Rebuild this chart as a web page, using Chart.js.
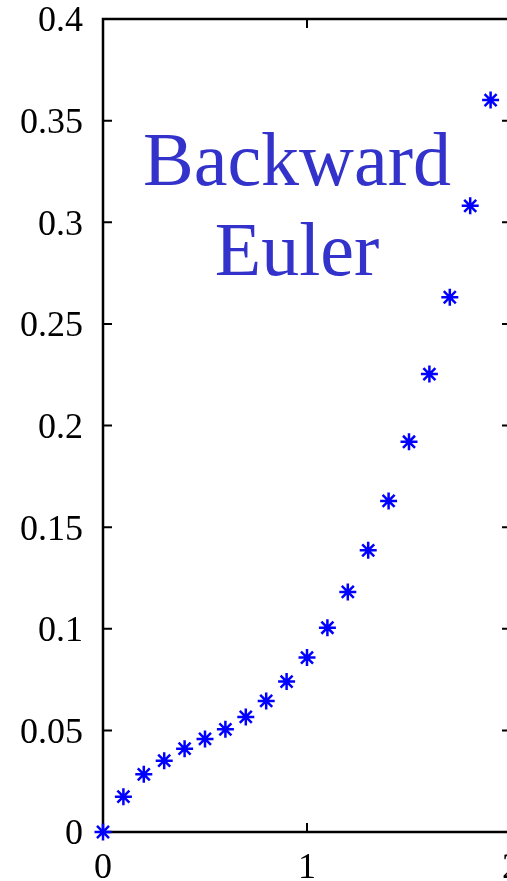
<!DOCTYPE html>
<html>
<head>
<meta charset="utf-8">
<script src="https://cdn.jsdelivr.net/npm/chart.js@4/dist/chart.umd.min.js"></script>
<style>
  html, body { margin: 0; padding: 0; background: #fff; overflow: hidden; width: 507px; height: 881px; }
  #wrap { position: absolute; left: 0; top: 0; width: 540px; height: 881px; }
</style>
</head>
<body>
<div id="wrap"><canvas id="c" width="540" height="881"></canvas></div>
<script>
// ---- data ----
const xValues = [0, 0.1, 0.2, 0.3, 0.4, 0.5, 0.6, 0.7, 0.8, 0.9, 1.0, 1.1, 1.2, 1.3, 1.4, 1.5, 1.6, 1.7, 1.8, 1.9];
const yValues = [0, 0.0174, 0.0284, 0.0351, 0.0410, 0.0458, 0.0505, 0.0566, 0.0645, 0.0740, 0.0858, 0.1005, 0.1181, 0.1386, 0.1629, 0.1920, 0.2253, 0.2631, 0.3081, 0.3601];
const xTicks = [0, 1, 2];
const yTicks = [0, 0.05, 0.1, 0.15, 0.2, 0.25, 0.3, 0.35, 0.4];
const xTickLabels = ['0', '1', '2'];
const yTickLabels = ['0', '0.05', '0.1', '0.15', '0.2', '0.25', '0.3', '0.35', '0.4'];
const annotationLines = ['Backward', 'Euler'];

const points = xValues.map((x, i) => ({ x: x, y: yValues[i] }));
const tickFont = { family: 'Liberation Serif', size: 36, lineHeight: 1.0 };

const framePlugin = {
  id: 'frame',
  beforeDatasetsDraw(chart) {
    const { ctx, chartArea: a, scales } = chart;
    ctx.save();
    ctx.strokeStyle = '#000';
    ctx.lineWidth = 2.5;
    ctx.strokeRect(a.left, a.top, a.right - a.left, a.bottom - a.top);
    ctx.lineWidth = 2;
    const tl = 9;
    ctx.beginPath();
    yTicks.forEach(v => {
      const p = scales.y.getPixelForValue(v);
      ctx.moveTo(a.left, p); ctx.lineTo(a.left + tl, p);
      ctx.moveTo(a.right, p); ctx.lineTo(a.right - tl, p);
    });
    xTicks.forEach(v => {
      const p = scales.x.getPixelForValue(v);
      ctx.moveTo(p, a.bottom); ctx.lineTo(p, a.bottom - tl);
      ctx.moveTo(p, a.top); ctx.lineTo(p, a.top + tl);
    });
    ctx.stroke();
    ctx.restore();
  },
  afterDraw(chart) {
    const { ctx } = chart;
    ctx.save();
    ctx.fillStyle = '#3333cc';
    ctx.font = '76px "Liberation Serif"';
    ctx.textAlign = 'center';
    ctx.textBaseline = 'alphabetic';
    ctx.fillText(annotationLines[0], 297, 185);
    ctx.fillText(annotationLines[1], 297, 275);
    ctx.restore();
  }
};

new Chart(document.getElementById('c'), {
  type: 'scatter',
  data: {
    datasets: [{
      data: points,
      pointStyle: 'star',
      pointRadius: 8.5,
      pointHoverRadius: 8.5,
      borderColor: '#0000ff',
      backgroundColor: '#0000ff',
      borderWidth: 2.5,
      pointBorderWidth: 2.5,
      clip: false
    }]
  },
  options: {
    responsive: false,
    animation: false,
    devicePixelRatio: 1,
    layout: { padding: { top: 19, right: 29, left: 0, bottom: 0 } },
    plugins: { legend: { display: false }, tooltip: { enabled: false } },
    scales: {
      x: {
        type: 'linear', min: 0, max: 2,
        afterBuildTicks(s) { s.ticks = xTicks.map(v => ({ value: v })); },
        ticks: {
          color: '#000', font: tickFont, padding: 19, maxRotation: 0, autoSkip: false,
          callback: (v) => xTickLabels[xTicks.indexOf(v)]
        },
        grid: { display: false, drawTicks: false },
        border: { display: false },
        afterFit(s) { s.height = 49; s.paddingLeft = 0; s.paddingRight = 0; }
      },
      y: {
        type: 'linear', min: 0, max: 0.4,
        afterBuildTicks(s) { s.ticks = yTicks.map(v => ({ value: v })); },
        ticks: {
          color: '#000', font: tickFont, padding: 20, labelOffset: 3, autoSkip: false,
          callback: (v) => { const i = yTicks.findIndex(t => Math.abs(t - v) < 1e-9); return yTickLabels[i]; }
        },
        grid: { display: false, drawTicks: false },
        border: { display: false },
        afterFit(s) { s.width = 103; s.paddingTop = 0; s.paddingBottom = 0; }
      }
    }
  },
  plugins: [framePlugin]
});
</script>
</body>
</html>
